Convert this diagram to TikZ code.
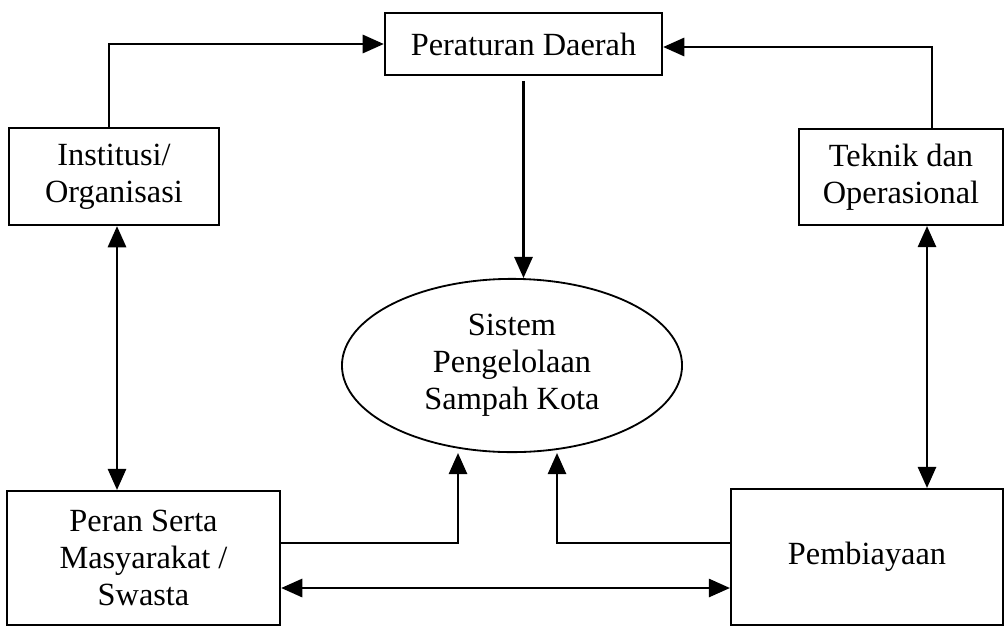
\documentclass[tikz,border=0pt]{standalone}
\usepackage{fontspec}
\setmainfont{Liberation Serif}
\usetikzlibrary{shapes.geometric,arrows.meta,calc}

\begin{document}
\begin{tikzpicture}[x=0.025cm,y=-0.025cm,
    box/.style={draw,line width=1.5pt,align=center,inner sep=0pt,
      font=\fontsize{23}{26.3}\selectfont},
    hub/.style={box,ellipse,line width=1.3pt},
    link/.style={line width=1.5pt,-{Triangle[length=15pt,width=13pt]}},
    both/.style={link,{Triangle[length=15pt,width=13pt]}-{Triangle[length=15pt,width=13pt]}}]
  \useasboundingbox (0,0) rectangle (1006,627);

  % Top rule and the two side boxes
  \node[box,minimum width=6.93cm,minimum height=1.55cm] (perda) at (523.5,44) {Peraturan Daerah};
  \node[box,minimum width=5.25cm,minimum height=2.43cm] (inst) at (114,176.5) {Institusi/\\Organisasi};
  \node[box,minimum width=5.1cm,minimum height=2.4cm] (teknik) at (901,177) {Teknik dan\\Operasional};

  % Central system
  \node[hub,minimum width=8.5cm,minimum height=4.33cm] (sistem) at (512,365.5) {Sistem\\Pengelolaan\\Sampah Kota};

  % Bottom boxes
  \node[box,minimum width=6.83cm,minimum height=3.35cm] (peran) at (143.5,558) {Peran Serta\\Masyarakat /\\Swasta};
  \node[box,minimum width=6.8cm,minimum height=3.4cm] (biaya) at (867,557) {Pembiayaan};

  % Feeds into Peraturan Daerah
  \draw[link] ($(inst.north)+(-5,0)$) |- (perda.west);
  \draw[link] ($(teknik.north)+(31,0)$) |- ($(perda.east)+(0,3)$);
  \draw[link,shorten <=0.12cm] (perda.south) -- (perda.south |- sistem.north);

  % Vertical two-way links
  \coordinate (instdown) at ($(inst.south)+(3,0)$);
  \draw[both] (instdown) -- (instdown |- peran.north);
  \coordinate (teknikdown) at ($(teknik.south)+(26,0)$);
  \draw[both] (teknikdown) -- (teknikdown |- biaya.north);

  % Bottom boxes into the system, and between each other
  \draw[link] ($(peran.east)+(0,-15)$) -| ($(sistem.south)+(-54,0)$);
  \draw[link] ($(biaya.west)+(0,-14)$) -| ($(sistem.south)+(45,0)$);
  \coordinate (peranright) at ($(peran.east)+(0,30)$);
  \draw[both] (peranright) -- (peranright -| biaya.west);
\end{tikzpicture}
\end{document}
